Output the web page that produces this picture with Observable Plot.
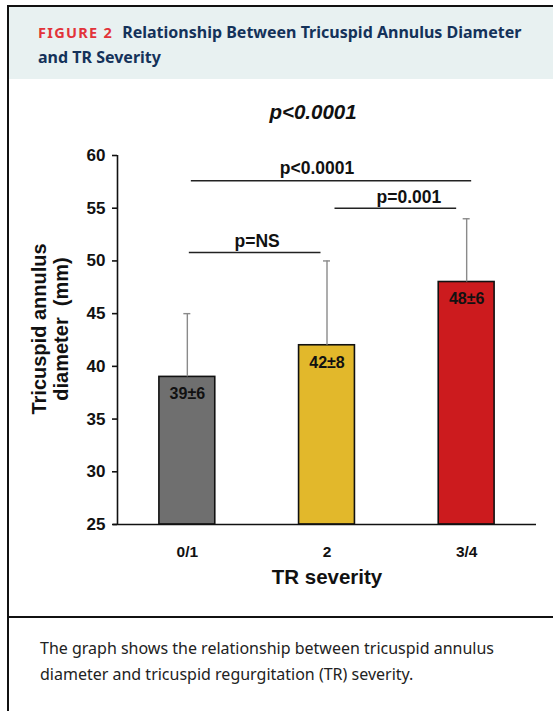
<!DOCTYPE html>
<html>
<head>
<meta charset="utf-8">
<script src="https://cdn.jsdelivr.net/npm/d3@7"></script>
<script src="https://cdn.jsdelivr.net/npm/@observablehq/plot@0.6"></script>
<style>
  html, body { margin: 0; padding: 0; background: #fff; width: 553px; height: 711px; overflow: hidden; }
  #frame { position: absolute; left: 7px; top: 5px; width: 600px; height: 720px; border-left: 2px solid #111; border-top: 2px solid #111; }
  #header { position: absolute; left: 9px; top: 7px; width: 600px; height: 72px; background: #e8f1f1; }
  #title { position: absolute; left: 38px; top: 20px; width: 510px; font-family: "Noto Sans", "Open Sans", sans-serif; font-weight: 700; font-size: 16px; line-height: 25px; color: #14325a; }
  #title .line { white-space: nowrap; }
  #title .fig { color: #e2333a; letter-spacing: 1.3px; font-size: 14.5px; margin-right: 9px; }
  #sep { position: absolute; left: 9px; top: 616px; width: 600px; height: 2px; background: #111; }
  #caption { position: absolute; left: 40px; top: 635px; width: 500px; font-family: "Noto Sans", "Open Sans", sans-serif; font-size: 16px; line-height: 26px; color: #222; }
  #chart { position: absolute; left: 0; top: 85px; }
</style>
</head>
<body>
<div id="frame"></div>
<div id="header"></div>
<div id="title">
  <div class="line"><span class="fig">FIGURE 2</span><span class="txt">Relationship Between Tricuspid Annulus Diameter</span></div>
  <div class="line"><span class="txt">and TR Severity</span></div>
</div>
<div id="chart"></div>
<div id="sep"></div>
<div id="caption">The graph shows the relationship between tricuspid annulus diameter and tricuspid regurgitation (TR) severity.</div>
<script>
// ---- data ----
const categories = ["0/1", "2", "3/4"];
const means = [39, 42, 48];
const sds = [6, 8, 6];
const barColors = ["#6f6f6f", "#e2b82b", "#cc1b1e"];
const yTicks = [25, 30, 35, 40, 45, 50, 55, 60];
const yDomain = [25, 60];
const bracketFrom = ["0/1", "2", "0/1"];
const bracketTo = ["2", "3/4", "3/4"];
const bracketLabels = ["p=NS", "p=0.001", "p<0.0001"];
const bracketY = [50.8, 55.0, 57.6];
const overallLabel = "p<0.0001";
const yTitle = "Tricuspid annulus\ndiameter  (mm)";
const xTitle = "TR severity";

// ---- build ----
const bars = categories.map((c, i) => ({cat: c, i, mean: means[i], sd: sds[i], color: barColors[i], label: `${means[i]}±${sds[i]}`}));
const brackets = bracketLabels.map((l, k) => ({
  label: l, y: bracketY[k],
  a: categories.indexOf(bracketFrom[k]), b: categories.indexOf(bracketTo[k])
}));
// per-bracket drawing style (pixel insets / label offsets)
const bracketStyle = [
  {insetLeft: 2, insetRight: 6, dx: 0, dy: -5},
  {insetLeft: 8, insetRight: 10, dx: 12, dy: -5},
  {insetLeft: 4, insetRight: -5, dx: -10, dy: -7}
];
const half = 0.2;
const font = "Liberation Sans, Arial, sans-serif";

const marks = [
  // bars
  Plot.rect(bars, {x1: d => d.i - half, x2: d => d.i + half, y1: () => yDomain[0], y2: "mean", fill: "color", stroke: "#111", strokeWidth: 1.6}),
  // error bars (upper only)
  Plot.ruleX(bars, {x: "i", y1: "mean", y2: d => d.mean + d.sd, stroke: "#8a8a8a", strokeWidth: 1.4}),
  Plot.ruleY(bars, {y: d => d.mean + d.sd, x1: "i", x2: "i", insetLeft: -3.5, insetRight: -3.5, stroke: "#8a8a8a", strokeWidth: 1.4}),
  // value labels
  Plot.text(bars, {x: "i", y: "mean", text: "label", lineAnchor: "top", dy: 11, fontSize: 16, fontWeight: "bold", fill: "#111", fontFamily: font}),
  // axes lines
  Plot.ruleY([yDomain[0]], {stroke: "#111", strokeWidth: 1.6, insetLeft: -4}),
  Plot.ruleX([-0.5], {y1: yDomain[0], y2: yDomain[1], stroke: "#111", strokeWidth: 1.6}),
  Plot.axisY({ticks: yTicks, tickSize: 5, tickPadding: 7, stroke: "#111", strokeWidth: 1.6, fontSize: 17, fontWeight: "bold", fill: "#111", fontFamily: font, label: null}),
  Plot.axisX({ticks: [0, 1, 2], tickFormat: i => categories[i], tickSize: 0, tickPadding: 21, fontSize: 15.5, fontWeight: "bold", fill: "#111", fontFamily: font, label: null}),
  // titles
  Plot.text([yTitle], {frameAnchor: "left", text: d => d, rotate: -90, textAnchor: "middle", lineAnchor: "middle", dx: -68, dy: -11, fontSize: 20, fontWeight: "bold", fill: "#111", fontFamily: font, lineHeight: 1.1}),
  Plot.text([xTitle], {frameAnchor: "bottom", text: d => d, lineAnchor: "bottom", dy: 59, fontSize: 20.5, fontWeight: "bold", fill: "#111", fontFamily: font}),
  Plot.text([overallLabel], {frameAnchor: "top", text: d => d, lineAnchor: "bottom", dx: -14, dy: -37, fontSize: 20.5, fontWeight: "bold", fontStyle: "italic", fill: "#111", fontFamily: font})
];
brackets.forEach((b, k) => {
  const s = bracketStyle[k];
  marks.push(Plot.ruleY([b], {y: "y", x1: "a", x2: "b", insetLeft: s.insetLeft, insetRight: s.insetRight, stroke: "#222", strokeWidth: 1.6}));
  marks.push(Plot.text([b], {x: d => (d.a + d.b) / 2, y: "y", text: "label", lineAnchor: "bottom", dx: s.dx, dy: s.dy, fontSize: 17.5, fontWeight: "bold", fill: "#111", fontFamily: font}));
});

const chart = Plot.plot({
  width: 553,
  height: 530,
  marginLeft: 117,
  marginRight: 17,
  marginTop: 70,
  marginBottom: 91,
  style: {background: "transparent", overflow: "visible", fontFamily: font},
  x: {domain: [-0.5, categories.length - 0.5], axis: null},
  y: {domain: yDomain, axis: null},
  marks
});
document.getElementById("chart").appendChild(chart);
</script>
</body>
</html>
